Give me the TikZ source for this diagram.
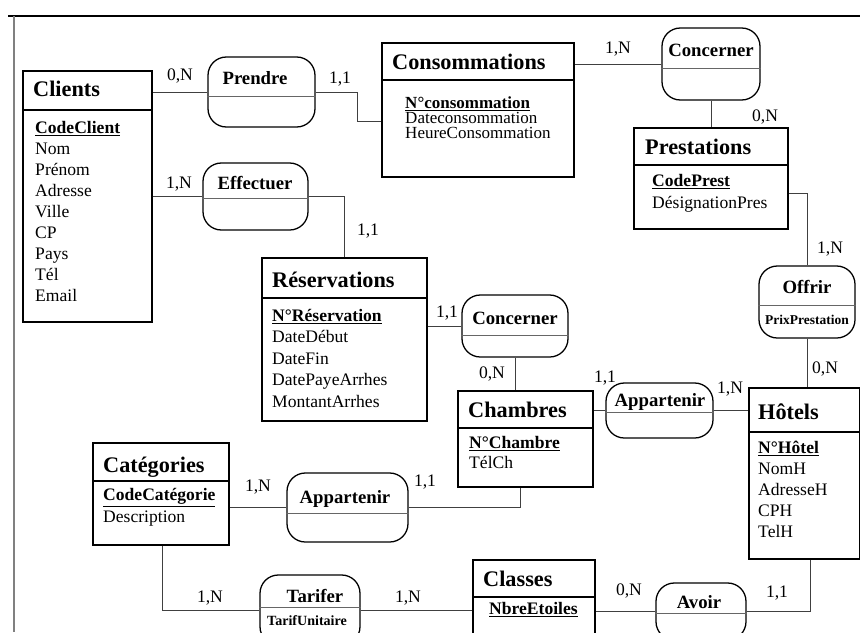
\documentclass[tikz,border=0pt]{standalone}
\usepackage{fontspec}
\setmainfont{Liberation Serif}
\usetikzlibrary{fit}

\begin{document}
\begin{tikzpicture}[x=0.03cm,y=-0.03cm,
  ent/.style={draw,line width=1.4pt,inner sep=0pt},
  asso/.style={draw,line width=1.1pt,rounded corners=0.55cm,inner sep=0pt},
  trait/.style={line width=1pt},
  septrait/.style={black!60,line width=0.6pt},
  lien/.style={black!75,line width=0.7pt},
  titre/.style={anchor=base west,inner sep=0pt,font=\fontsize{19}{21}\selectfont\bfseries},
  attr/.style={anchor=north west,inner sep=0pt,align=left,font=\fontsize{15}{17.9}\selectfont},
  nom/.style={inner sep=0pt,text depth=0pt,font=\fontsize{16}{18}\selectfont\bfseries},
  card/.style={inner sep=0pt,text depth=0pt,font=\fontsize{15}{16}\selectfont}]
\useasboundingbox (0,0) rectangle (860,632);
\fill[white] (0,0) rectangle (860,632);
\clip (0,0) rectangle (860,632);
\draw[line width=1.8pt] (8,16) -- (860,16);
\draw[black!50,line width=1.2pt] (14,16) -- (14,632);

% entites
\node[ent,fit={(23,71)(152,322)}] (cli) {};
\draw[trait] (cli.west |- 0,110) -- (cli.east |- 0,110);
\node[titre] at (33,96) {Clients};
\node[attr] at (35,121) {\textbf{\underline{CodeClient}}\\Nom\\Prénom\\Adresse\\Ville\\CP\\Pays\\Tél\\Email};

\node[ent,fit={(382,43)(574,177)}] (conso) {};
\draw[trait] (conso.west |- 0,80) -- (conso.east |- 0,80);
\node[titre] at (392,69) {Consommations};
\node[attr,font=\fontsize{14.5}{13.2}\selectfont] at (405,96) {\textbf{\underline{N°consommation}}\\Dateconsommation\\HeureConsommation};

\node[ent,fit={(634,128)(788,229)}] (presta) {};
\draw[trait,line width=1.6pt] (presta.west |- 0,165) -- (presta.east |- 0,165);
\node[titre] at (645,154) {Prestations};
\node[attr,font=\fontsize{15}{18.7}\selectfont] at (652,174) {\textbf{\underline{CodePrest}}\\DésignationPres};

\node[ent,fit={(262,258)(427,421)}] (resa) {};
\draw[trait] (resa.west |- 0,298) -- (resa.east |- 0,298);
\node[titre] at (272,287) {Réservations};
\node[attr,font=\fontsize{15}{18.3}\selectfont] at (272,309) {\textbf{\underline{N°Réservation}}\\DateDébut\\DateFin\\DatePayeArrhes\\MontantArrhes};

\node[ent,fit={(458,391)(593,487)}] (chamb) {};
\draw[trait] (chamb.west |- 0,428) -- (chamb.east |- 0,428);
\node[titre] at (468,417) {Chambres};
\node[attr,font=\fontsize{15}{17}\selectfont] at (469,436) {\textbf{\underline{N°Chambre}}\\TélCh};

\node[ent,fit={(749,388)(860,559)}] (hotels) {};
\draw[trait] (hotels.west |- 0,432) -- (hotels.east |- 0,432);
\node[titre] at (758,419) {Hôtels};
\node[attr] at (758,441) {\textbf{\underline{N°Hôtel}}\\NomH\\AdresseH\\CPH\\TelH};

\node[ent,fit={(93,443)(229,545)}] (cat) {};
\draw[trait] (cat.west |- 0,481) -- (cat.east |- 0,481);
\node[titre] at (103,472) {Catégories};
\node[attr,font=\fontsize{15}{18.7}\selectfont] at (103,488) {\textbf{\underline{CodeCatégorie}}\\Description};

\node[ent,fit={(473,560)(595,650)}] (classes) {};
\draw[trait] (classes.west |- 0,597) -- (classes.east |- 0,597);
\node[titre] at (483,586) {Classes};
\node[attr] at (489,602) {\textbf{\underline{NbreEtoiles}}};

% associations
\node[asso,fit={(208,57)(315,127)}] (prendre) {};
\draw[septrait] (prendre.west |- 0,96) -- (prendre.east |- 0,96);
\node[nom] at (255,78) {Prendre};

\node[asso,fit={(203,163)(308,230)}] (effect) {};
\draw[septrait] (effect.west |- 0,198) -- (effect.east |- 0,198);
\node[nom] at (255,183) {Effectuer};

\node[asso,fit={(662,28)(760,100)}] (conc1) {};
\draw[septrait] (conc1.west |- 0,68) -- (conc1.east |- 0,68);
\node[nom] at (711,50) {Concerner};

\node[asso,fit={(462,295)(568,357)}] (conc2) {};
\draw[septrait] (conc2.west |- 0,335) -- (conc2.east |- 0,335);
\node[nom] at (515,318) {Concerner};

\node[asso,fit={(606,383)(713,438)}] (app1) {};
\draw[septrait] (app1.west |- 0,412) -- (app1.east |- 0,412);
\node[nom] at (660,400) {Appartenir};

\node[asso,fit={(287,473)(408,542)}] (app2) {};
\draw[septrait] (app2.west |- 0,513) -- (app2.east |- 0,513);
\node[nom] at (345,497) {Appartenir};

\node[asso,fit={(759,266)(855,338)}] (offrir) {};
\draw[septrait] (offrir.west |- 0,305) -- (offrir.east |- 0,305);
\node[nom] at (807,287) {Offrir};
\node[nom,font=\fontsize{11.5}{13}\selectfont\bfseries] at (807,320) {PrixPrestation};

\node[asso,fit={(260,575)(360,645)}] (tarif) {};
\draw[septrait] (tarif.west |- 0,607) -- (tarif.east |- 0,607);
\node[nom] at (315,596) {Tarifer};
\node[nom,font=\fontsize{12}{13}\selectfont\bfseries] at (307,621) {TarifUnitaire};

\node[asso,fit={(656,583)(746,640)}] (avoir) {};
\draw[septrait] (avoir.west |- 0,613) -- (avoir.east |- 0,613);
\node[nom] at (699,602) {Avoir};

% liens
\draw[lien] (cli.east |- prendre) -- (prendre.west);
\draw[lien] (prendre.east) -- ++(42,0) |- (conso.west |- 0,121);
\draw[lien] (cli.east |- effect) -- (effect.west);
\draw[lien] (effect.east) -| (resa.north);
\draw[lien] (conso.east |- conc1) -- (conc1.west);
\draw[lien] (conc1.south) -- (conc1.south |- presta.north);
\draw[lien] (presta.east |- 0,193) -| (offrir.north);
\draw[lien] (offrir.south) -- (offrir.south |- hotels.north);
\draw[lien] (resa.east |- conc2) -- (conc2.west);
\draw[lien] (conc2.south) -- (conc2.south |- chamb.north);
\draw[lien] (chamb.east |- app1) -- (app1.west);
\draw[lien] (app1.east) -- (app1.east -| hotels.west);
\draw[lien] (cat.east |- app2) -- (app2.west);
\draw[lien] (app2.east) -| (chamb.south -| 520,0);
\draw[lien] (cat.south -| 162,0) |- (tarif.west);
\draw[lien] (tarif.east) -- (tarif.east -| classes.west);
\draw[lien] (classes.east |- avoir) -- (avoir.west);
\draw[lien] (avoir.east) -| (hotels.south -| 810,0);

% cardinalites
\node[card] at (180,75) {0,N};
\node[card] at (340,78) {1,1};
\node[card] at (179,183) {1,N};
\node[card] at (368,230) {1,1};
\node[card] at (618,48) {1,N};
\node[card] at (765,116) {0,N};
\node[card] at (830,248) {1,N};
\node[card] at (825,368) {0,N};
\node[card] at (447,312) {1,1};
\node[card] at (492,373) {0,N};
\node[card] at (605,377) {1,1};
\node[card] at (730,388) {1,N};
\node[card] at (258,486) {1,N};
\node[card] at (425,481) {1,1};
\node[card] at (210,597) {1,N};
\node[card] at (408,597) {1,N};
\node[card] at (629,590) {0,N};
\node[card] at (777,592) {1,1};
\end{tikzpicture}
\end{document}
